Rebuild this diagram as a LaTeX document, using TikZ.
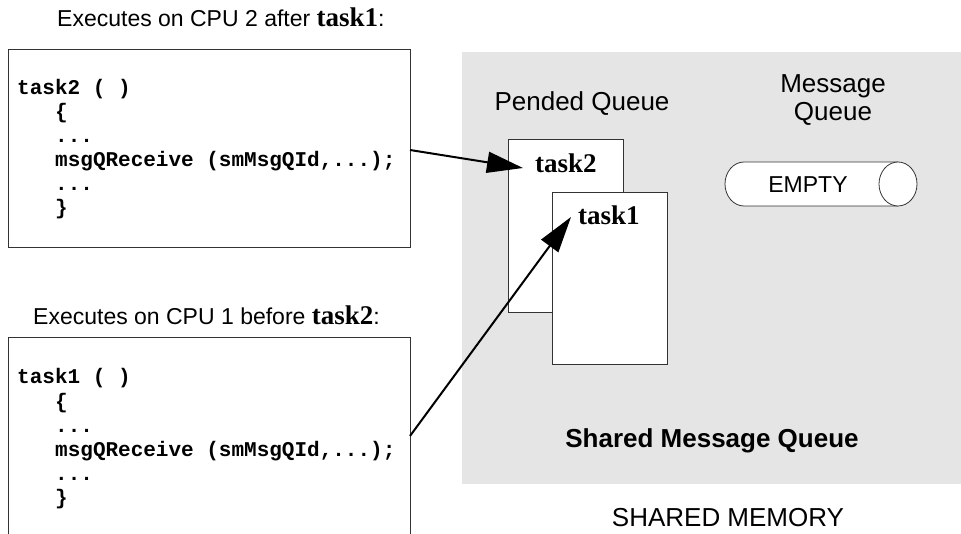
\documentclass[tikz,border=0pt]{standalone}
\usepackage{fontspec}
\setmainfont{Liberation Sans}
\newfontfamily\codefam{Liberation Mono}
\newfontfamily\seriffam{Liberation Serif}
\usetikzlibrary{arrows.meta}
\definecolor{shgray}{RGB}{229,229,229}
\begin{document}
\begin{tikzpicture}[x=1pt,y=-1pt,
  code/.style={anchor=base west,inner sep=0pt,font=\codefam\bfseries\fontsize{21}{24}\selectfont},
  captxt/.style={anchor=base west,inner sep=0pt,font=\fontsize{23}{27}\selectfont},
  lab/.style={anchor=base,inner sep=0pt,font=\fontsize{26}{28}\selectfont},
  tsk/.style={anchor=base west,inner sep=0pt,font=\seriffam\bfseries\fontsize{27}{30}\selectfont},
  card/.style={draw=black!80,line width=0.8pt,fill=white},
  codebox/.style={draw=black!80,line width=0.8pt,fill=white},
  conn/.style={line width=2pt,-{Triangle[length=36pt,width=21pt]}}]
\path[use as bounding box,clip] (0,0) rectangle (961,534);
\fill[white] (0,0) rectangle (961,534);
% shared memory region
\fill[shgray] (462,52) rectangle (961,484);
% code boxes
\draw[codebox] (8,49) rectangle (410,247);
\draw[codebox] (8,545) -- (8,337) -- (410,337) -- (410,545);
% captions
\node[captxt] (cap2) at (57,27) {Executes on CPU 2 after {\seriffam\bfseries\fontsize{27}{30}\selectfont task1}:};
\node[captxt] (cap1) at (33,325) {Executes on CPU 1 before {\seriffam\bfseries\fontsize{27}{30}\selectfont task2}:};
% code task2
\node[code] (c2a) at (17,95) {task2 ( )};
\node[code] (c2b) at (55,119) {\{};
\node[code] (c2c) at (55,143) {...};
\node[code] (c2d) at (55,167) {msgQReceive (smMsgQId,...);};
\node[code] (c2e) at (55,191) {...};
\node[code] (c2f) at (55,215) {\}};
% code task1
\node[code] (c1a) at (17,384) {task1 ( )};
\node[code] (c1b) at (55,408) {\{};
\node[code] (c1c) at (55,432) {...};
\node[code] (c1d) at (55,456) {msgQReceive (smMsgQId,...);};
\node[code] (c1e) at (55,480) {...};
\node[code] (c1f) at (55,504) {\}};
% pended queue
\node[lab] (pq) at (582,111) {Pended Queue};
\draw[card] (508,139) rectangle (623,312);
\node[tsk] (t2) at (535,173) {task2};
\draw[card] (552,192) rectangle (667,364);
\node[tsk] (t1) at (578,225) {task1};
% message queue
\node[lab] (mq1) at (833,93) {Message};
\node[lab] (mq2) at (833,121) {Queue};
\draw[line width=0.8pt,draw=black!80,fill=white] (898,162) -- (744,162) arc[start angle=90,end angle=270,x radius=19,y radius=-22] -- (898,206);
\draw[line width=0.8pt,draw=black!80,fill=white] (898,184) ellipse[x radius=19,y radius=22];
\node[anchor=base,inner sep=0pt,font=\fontsize{23}{26}\selectfont] (empty) at (808,193) {EMPTY};
% labels
\node[lab,font=\bfseries\fontsize{26}{28}\selectfont] (smq) at (712,447) {Shared Message Queue};
\node[lab] (shm) at (728,526) {SHARED MEMORY};
% connectors
\coordinate (a2s) at (410,150);
\coordinate (a2e) at (523,168);
\coordinate (a1s) at (410,436);
\coordinate (a1e) at (571,217);
\draw[conn] (a2s) -- (a2e);
\draw[conn] (a1s) -- (a1e);
\end{tikzpicture}
\end{document}
